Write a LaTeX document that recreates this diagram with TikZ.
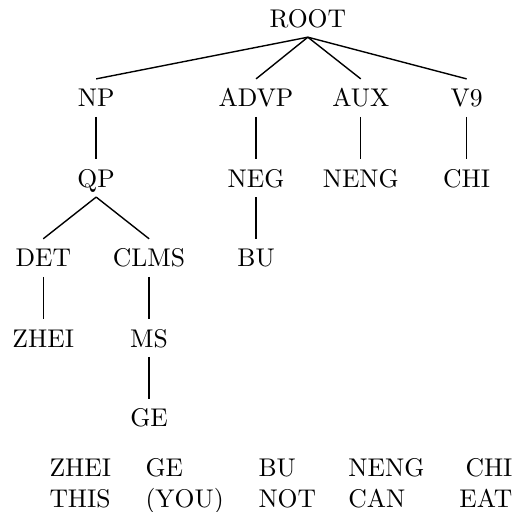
\documentclass[tikz,border=0pt]{standalone}
\usepackage{tikz}
\usepackage{xcolor}

\begin{document}
\begin{tikzpicture}[
	cat/.style	= {scale=1.28, inner xsep=1.5pt, inner ysep=3.7pt, text height=7.03pt, text depth=0pt},
	word/.style	= {scale=1.28, inner sep=0pt, anchor=base west},
	branch/.style	= {line width=0.7pt, black}]
			%\draw[help lines] (0,0) grid (9,-9);
			\useasboundingbox (0,0) rectangle (9.103,-8.997);
			
			\node[cat] (ROOT) at (5.41,-0.32) {ROOT};
			
			\node[cat] (NP)   at (1.69,-1.72) {NP};
			\node[cat] (ADVP) at (4.50,-1.72) {ADVP};
			\node[cat] (AUX)  at (6.34,-1.72) {AUX};
			\node[cat] (V9)   at (8.20,-1.72) {V9};
			
			\node[cat] (QP)   at (1.69,-3.13) {QP};
			\node[cat] (NEG)  at (4.50,-3.13) {NEG};
			\node[cat] (NENG) at (6.34,-3.13) {NENG};
			\node[cat] (CHI)  at (8.20,-3.13) {CHI};
			
			\node[cat] (DET)  at (0.76,-4.53) {DET};
			\node[cat] (CLMS) at (2.62,-4.53) {CLMS};
			\node[cat] (BU)   at (4.50,-4.53) {BU};
			
			\node[cat] (ZHEI) at (0.76,-5.94) {ZHEI};
			\node[cat] (MS)   at (2.62,-5.94) {MS};
			
			\node[cat] (GE)   at (2.62,-7.34) {GE};
			
			\draw[branch] (ROOT.south) -- (NP.north);
			\draw[branch] (ROOT.south) -- (ADVP.north);
			\draw[branch] (ROOT.south) -- (AUX.north);
			\draw[branch] (ROOT.south) -- (V9.north);
			
			\draw[branch] (NP.south) -- (QP.north);
			\draw[branch] (ADVP.south) -- (NEG.north);
			\draw[branch] (AUX.south) -- (NENG.north);
			\draw[branch] (V9.south) -- (CHI.north);
			
			\draw[branch] (QP.south) -- (DET.north);
			\draw[branch] (QP.south) -- (CLMS.north);
			\draw[branch] (NEG.south) -- (BU.north);
			
			\draw[branch] (DET.south) -- (ZHEI.north);
			\draw[branch] (CLMS.south) -- (MS.north);
			\draw[branch] (MS.south) -- (GE.north);
			
			% gloss under the tree, last column flush right
			\node[word] (g1) at (0.861,-8.382) {ZHEI};
			\node[word] (g2) at (2.548,-8.382) {GE};
			\node[word] (g3) at (4.534,-8.382) {BU};
			\node[word] (g4) at (6.115,-8.382) {NENG};
			\node[word, anchor=base east] (g5) at (9.015,-8.382) {CHI};
			
			\node[word] (t1) at (0.861,-8.910) {THIS};
			\node[word] (t2) at (2.548,-8.910) {(YOU)};
			\node[word] (t3) at (4.534,-8.910) {NOT};
			\node[word] (t4) at (6.115,-8.910) {CAN};
			\node[word, anchor=base east] (t5) at (9.015,-8.910) {EAT};
			
\end{tikzpicture}
\end{document}
